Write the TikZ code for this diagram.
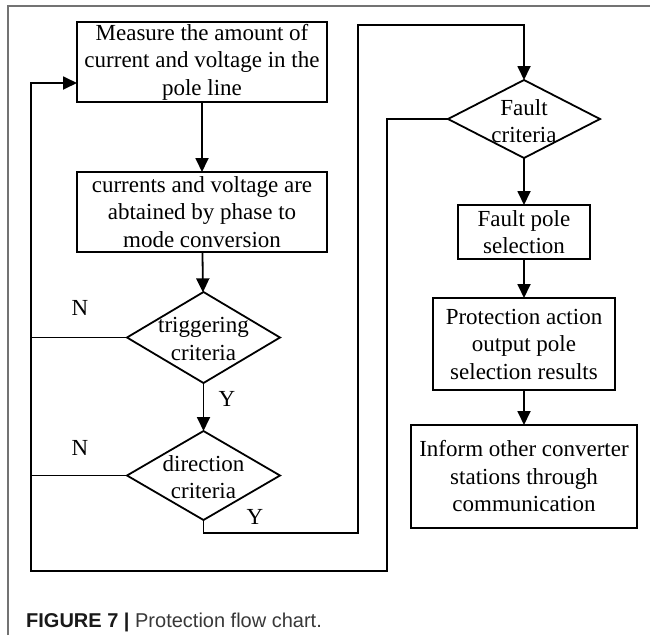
\documentclass[tikz,border=0pt]{standalone}
\usepackage{fontspec}
\setmainfont{Liberation Serif}
\setsansfont{Liberation Sans}
\usetikzlibrary{shapes.geometric,arrows.meta}
\tikzset{
  flowbox/.style={draw, line width=1.8pt, inner sep=0pt, outer sep=0pt, align=center,
    font=\fontsize{23}{27.5}\selectfont},
  decision/.style={draw, diamond, line width=1.8pt, inner sep=0pt, outer sep=0pt},
  dtext/.style={align=center, inner sep=0pt, font=\fontsize{23}{27.5}\selectfont},
  lbl/.style={inner sep=0pt, font=\fontsize{23}{27.5}\selectfont},
  conn/.style={line width=1.8pt},
  arr/.style={line width=1.8pt, -{Triangle[length=14pt,width=13pt]}},
  frame/.style={line width=1.3pt, draw=black!55}
}
\begin{document}
\begin{tikzpicture}[x=1pt,y=-1pt]
\useasboundingbox (0,0) rectangle (650,635);
% figure frame
\coordinate (fa) at (8,635);
\coordinate (fb) at (8,6);
\coordinate (fc) at (650,6);
\draw[frame] (fa) -- (fb) -- (fc);
% left column
\node[flowbox, minimum width=250pt, minimum height=80pt] (b1) at (202,62)
  {Measure the amount of\\current and voltage in the\\pole line};
\node[flowbox, minimum width=250pt, minimum height=80pt] (b2) at (202,212)
  {currents and voltage are\\abtained by phase to\\mode conversion};
\node[decision, minimum width=153pt, minimum height=91pt] (d1) at (203.5,337.5) {};
\node[dtext] (d1t) at (203.5,339) {triggering\\criteria};
\node[decision, minimum width=153pt, minimum height=89pt] (d2) at (203.5,475.5) {};
\node[dtext] (d2t) at (203.5,477) {direction\\criteria};
% right column
\node[decision, minimum width=152pt, minimum height=78pt] (d3) at (524,119) {};
\node[dtext] (d3t) at (524,121) {Fault\\criteria};
\node[flowbox, minimum width=132pt, minimum height=54pt] (b3) at (524,232)
  {Fault pole\\selection};
\node[flowbox, minimum width=182pt, minimum height=92pt] (b4) at (524,344)
  {Protection action\\output pole\\selection results};
\node[flowbox, minimum width=226pt, minimum height=103pt] (b5) at (524,476.5)
  {Inform other converter\\stations through\\communication};
% labels
\node[lbl] (n1) at (80,308) {N};
\node[lbl] (n2) at (80,448) {N};
\node[lbl] (y1) at (227,399) {Y};
\node[lbl] (y2) at (255,517) {Y};
% routing points
\coordinate (yc) at (358,533);
\coordinate (yt) at (358,25);
\coordinate (nb) at (387,571);
\coordinate (lb) at (31,571);
\coordinate (lt) at (31,83);
% connectors
\draw[arr] (b1) -- (b2);
\draw[arr] (b2) -- (d1);
\draw[arr] (d1) -- (d2);
\draw[arr] (d2.south) |- (yc) -- (yt) -| (d3.north);
\draw[arr] (d3) -- (b3);
\draw[arr] (b3) -- (b4);
\draw[arr] (b4) -- (b5);
\draw[arr] (d3.west) -| (nb) -- (lb) -- (lt) -- (lt -| b1.west);
\draw[conn] (d1.west) -- (d1.west -| lb);
\draw[conn] (d2.west) -- (d2.west -| lb);
% caption
\node[anchor=base west, inner sep=0pt, font=\sffamily\fontsize{20}{24}\selectfont] (cap) at (26,627)
  {\textcolor{black!90}{\bfseries FIGURE 7 |} \textcolor{black!78}{Protection flow chart.}};
\end{tikzpicture}
\end{document}
